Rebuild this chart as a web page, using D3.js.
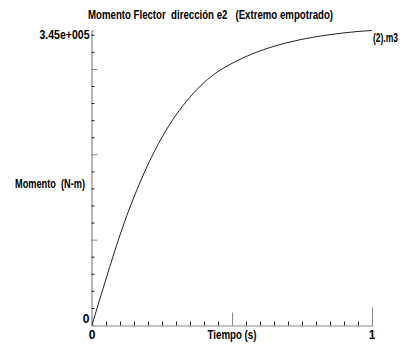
<!DOCTYPE html>
<html>
<head>
<meta charset="utf-8">
<script src="https://cdn.jsdelivr.net/npm/d3@7"></script>
<style>
  html, body { margin: 0; padding: 0; background: #fff; }
  svg { display: block; }
  text { font-family: "Liberation Sans Narrow", "Arial Narrow", "Liberation Sans", sans-serif; font-weight: bold; fill: #000; white-space: pre; }
</style>
</head>
<body>
<script>
// Bending moment over time, direction e2 (fixed end)
const timeValues = [0, 0.05, 0.1, 0.15, 0.2, 0.25, 0.3, 0.35, 0.4, 0.45, 0.5,
                    0.55, 0.6, 0.65, 0.7, 0.75, 0.8, 0.85, 0.9, 0.95, 1.0];
const momentValues = [0, 54000, 105500, 150000, 188000, 220000, 246000, 267000, 284000, 297000, 306500,
                      314500, 321100, 326500, 331000, 334700, 337700, 340200, 342200, 343900, 345000];
const yMaxValue = 345000;
const yMaxLabel = "3.45e+005";
const xTickLabels = ["0", "1"];
const yZeroLabel = "0";
const seriesName = "(2).m3";
const titleText = "Momento Flector  dirección e2   (Extremo empotrado)";
const xTitle = "Tiempo (s)";
const yTitle = "Momento  (N-m)";

const W = 410, H = 349;
const x0 = 92, x1 = 372, yBottom = 325, yTop = 30.5;

const svg = d3.select("body").append("svg").attr("width", W).attr("height", H);

const x = d3.scaleLinear().domain([0, 1]).range([x0, x1]);
const y = d3.scaleLinear().domain([0, yMaxValue]).range([yBottom, yTop]);

// y axis: ticks every 20000, longer every 100000
const yAxis = d3.axisRight(y)
  .tickValues(d3.range(0, yMaxValue, 20000))
  .tickSize(3)
  .tickFormat("");
const gy = svg.append("g").attr("transform", `translate(${x0 - 0.5},0)`).call(yAxis);
gy.select(".domain").attr("stroke", "#888").attr("stroke-width", 1.2);
gy.selectAll(".tick line")
  .attr("stroke", d => d % 100000 === 0 ? "#888" : "#222")
  .attr("x2", d => d % 100000 === 0 ? 6 : 3);
gy.selectAll(".tick").filter(d => d === 0).remove();

// x axis: ticks every 0.05 pointing up, longer at 0.5 and 1
const xAxis = d3.axisTop(x)
  .tickValues(d3.range(0, 1.0001, 0.05).map(v => +v.toFixed(2)))
  .tickSize(4)
  .tickFormat("");
const gx = svg.append("g").attr("transform", `translate(0,${yBottom + 0.5})`).call(xAxis);
gx.select(".domain").attr("stroke", "#888").attr("stroke-width", 1.2);
gx.selectAll(".tick line")
  .attr("stroke", d => (d === 0.5 || d === 1) ? "#888" : "#222")
  .attr("y2", d => d === 1 ? -18 : d === 0.5 ? -13 : -4);
gx.selectAll(".tick").filter(d => d === 0).remove();

// curve
const line = d3.line()
  .x((d, i) => x(timeValues[i]))
  .y(d => y(d))
  .curve(d3.curveMonotoneX);
svg.append("path")
  .datum(momentValues)
  .attr("d", line)
  .attr("fill", "none")
  .attr("stroke", "#222")
  .attr("stroke-width", 1);

// texts
function label(txt, px, py, anchor, len, size) {
  const t = svg.append("text")
    .attr("x", px).attr("y", py)
    .attr("text-anchor", anchor)
    .attr("font-size", size)
    .text(txt);
  if (len) t.attr("textLength", len).attr("lengthAdjust", "spacingAndGlyphs");
  return t;
}

label(titleText, 210.5, 19, "middle", 245, 12);
label(yMaxLabel, 89.5, y(yMaxValue) + 8.5, "end", 50, 12);
label(seriesName, 373, y(yMaxValue) + 11, "start", 25, 12);
label(yTitle, 50, 188, "middle", 70, 12);
label(yZeroLabel, 89.5, yBottom - 2, "end", null, 12);
label(xTickLabels[0], x(0), 339, "middle", null, 12);
label(xTickLabels[1], x(1), 339, "middle", null, 12);
label(xTitle, x(0.5), 339, "middle", 49, 12);
</script>
</body>
</html>
